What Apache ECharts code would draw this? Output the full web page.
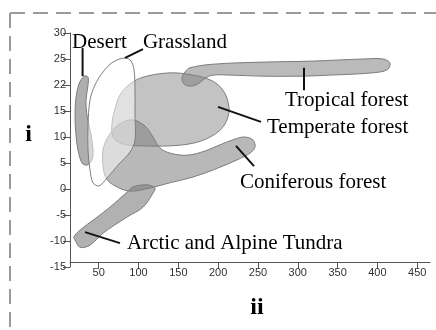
<!DOCTYPE html>
<html><head><meta charset="utf-8">
<script src="https://cdn.jsdelivr.net/npm/echarts@6/dist/echarts.min.js"></script>
<style>html,body{margin:0;padding:0;background:#fff}#c{width:436px;height:330px}</style>
</head><body><div id="c"></div>
<script>
// x: precipitation, y: temperature
const xTicks = [50,100,150,200,250,300,350,400,450];
const yTicks = [-15,-10,-5,0,5,10,15,20,25,30];
const yTickLabels = ['-15','-10','-5','0','5','10','15','22','25','30'];

const desert = [[31.6,21.7],[36.6,21.5],[36.6,20],[34.1,17.1],[35.3,14.2],[40.4,10.4],[42.9,7.5],[41.6,5.6],[35.3,4.6],[29.1,5],[24,7.5],[21.5,10.4],[20.3,14.2],[21.5,17.5],[25.3,20.2]];
const temperate = [[68,10],[66.7,12.5],[70.5,15.4],[76.8,18.1],[89.3,20.2],[105.6,21.5],[135.8,22.3],[160.9,22.1],[189.8,21],[206.1,19],[213.6,15.8],[211.1,13.3],[202.3,11.3],[187.3,9.8],[168.4,8.8],[139.6,8.3],[101.9,8.3],[79.3,8.7]];
const tropical = [[158.4,22.5],[164.7,23.3],[193.5,24],[256.3,24.4],[319.1,24.6],[381.9,25],[407,25],[415.8,24.2],[412,22.9],[390.7,22.3],[340.4,21.9],[306.6,21.7],[256.3,21.7],[214.9,21.9],[193.5,21.9],[183.5,21.3],[174.7,20.2],[164.7,19.8],[157.1,20.2],[154.6,21.3]];
const coniferous = [[55.4,4.6],[55.4,7.5],[61.7,10],[74.3,12.3],[91.8,13.3],[108.2,12.1],[118.2,10],[127,7.9],[139.6,6.9],[160.9,6.5],[183.5,7.3],[202.3,8.5],[221.2,9.6],[233.7,10],[243.8,9.4],[246.3,8.1],[240,6.9],[223.7,5.6],[196,3.8],[168.4,2.3],[139.6,1.2],[114.4,0.2],[89.3,-0.4],[70.5,0.6],[59.2,2.1]];
const tundra = [[20.3,-9.8],[26.6,-11.2],[39.1,-10.8],[55.4,-8.5],[85.6,-5.4],[105.6,-3.5],[118.2,-0.8],[120.7,0.2],[110.7,0.8],[93.1,0.4],[85.6,-0.6],[64.2,-3.5],[42.9,-6],[26.6,-7.9],[19,-9.2]];
const grassland = [[83.1,25.2],[90.6,24.6],[94.4,22.9],[95.6,19],[95.6,14.2],[95.6,9.4],[89.3,7.1],[74.3,4.6],[60.5,2.1],[50.4,0.6],[42.9,1.2],[39.1,3.7],[36.6,7.5],[36.6,12.3],[39.1,17.1],[45.4,20],[55.4,22.5],[68,24.4]];

const labelNames = ['Desert','Grassland','Tropical forest','Temperate forest','Coniferous forest','Arctic and Alpine Tundra'];
const labelAnchors = [[16.5,28.1],[105.6,28.1],[283.9,17.1],[261.3,11.9],[227.4,1.3],[85.6,-10.4]];
const leaders = [[[29.8,27.1],[29.8,21.7]],[[83.1,25.2],[105.6,26.9]],[[307.8,23.3],[307.8,19]],[[199.8,15.8],[253.8,12.9]],[[222.4,8.3],[245,4.4]],[[32.8,-8.3],[76.8,-10.4]]];

function shape(name, pts, fill, z){
  return {type:'custom', name, coordinateSystem:'cartesian2d', data:[pts[0]], z, silent:true, clip:false,
    renderItem:(params, api)=>({type:'polygon', shape:{points:pts.map(p=>api.coord(p)), smooth:0.35},
      style:{fill, stroke:'#7d7d7d', lineWidth:1}})};
}

const chart = echarts.init(document.getElementById('c'), null, {renderer:'canvas'});
chart.setOption({
  animation:false,
  backgroundColor:'#fff',
  grid:{left:70, right:6, top:33, bottom:63, outerBoundsMode:'none', containLabel:false},
  xAxis:{type:'value', min:14, max:466, offset:-5,
    name:'ii', nameLocation:'middle', nameGap:34,
    nameTextStyle:{fontFamily:'Liberation Serif', fontWeight:'bold', fontSize:24, color:'#000', padding:[0,0,0,14]},
    axisLine:{show:true, onZero:false, lineStyle:{color:'#555', width:1}},
    axisTick:{show:true, length:7, customValues:xTicks, lineStyle:{color:'#555'}},
    axisLabel:{customValues:xTicks, fontFamily:'Liberation Sans', fontSize:11, color:'#333', margin:5},
    splitLine:{show:false}},
  yAxis:{type:'value', min:-15, max:30, interval:5,
    name:'i', nameLocation:'middle', nameGap:38, nameRotate:0,
    nameTextStyle:{fontFamily:'Liberation Serif', fontWeight:'bold', fontSize:24, color:'#000', verticalAlign:'bottom', padding:[0,0,3,0]},
    axisLine:{show:true, onZero:false, lineStyle:{color:'#555', width:1}},
    axisTick:{show:true, length:7, lineStyle:{color:'#555'}},
    axisLabel:{fontFamily:'Liberation Sans', fontSize:11, color:'#333', margin:4,
      formatter:v=>{const i=yTicks.indexOf(v); return i>=0?yTickLabels[i]:'';}},
    splitLine:{show:false}},
  graphic:[
    {type:'line', shape:{x1:10,y1:13,x2:436,y2:13}, style:{stroke:'#9a9a9a', lineWidth:2, lineDash:[15,8]}},
    {type:'line', shape:{x1:10,y1:13,x2:10,y2:330}, style:{stroke:'#9a9a9a', lineWidth:2, lineDash:[15,8]}}
  ],
  series:[
    shape('Desert', desert, 'rgba(120,120,120,0.6)', 2),
    shape('Temperate forest', temperate, 'rgba(130,130,130,0.48)', 3),
    shape('Coniferous forest', coniferous, 'rgba(125,125,125,0.55)', 4),
    shape('Arctic and Alpine Tundra', tundra, 'rgba(125,125,125,0.6)', 5),
    shape('Tropical forest', tropical, 'rgba(130,130,130,0.55)', 6),
    shape('Grassland', grassland, 'rgba(255,255,255,0.5)', 7),
    {type:'custom', coordinateSystem:'cartesian2d', data:leaders.map(l=>l[0]), z:8, silent:true, clip:false,
      renderItem:(params, api)=>{const l=leaders[params.dataIndex]; const a=api.coord(l[0]), b=api.coord(l[1]);
        return {type:'line', shape:{x1:a[0],y1:a[1],x2:b[0],y2:b[1]}, style:{stroke:'#111', lineWidth:2}};}},
    {type:'custom', coordinateSystem:'cartesian2d', data:labelAnchors, z:9, silent:true, clip:false,
      renderItem:(params, api)=>{const p=api.coord(labelAnchors[params.dataIndex]);
        return {type:'text', x:p[0], y:p[1], style:{text:labelNames[params.dataIndex], fontFamily:'Liberation Serif', fontSize:21, fill:'#000', align:'left', verticalAlign:'middle'}};}}
  ]
});
</script></body></html>
